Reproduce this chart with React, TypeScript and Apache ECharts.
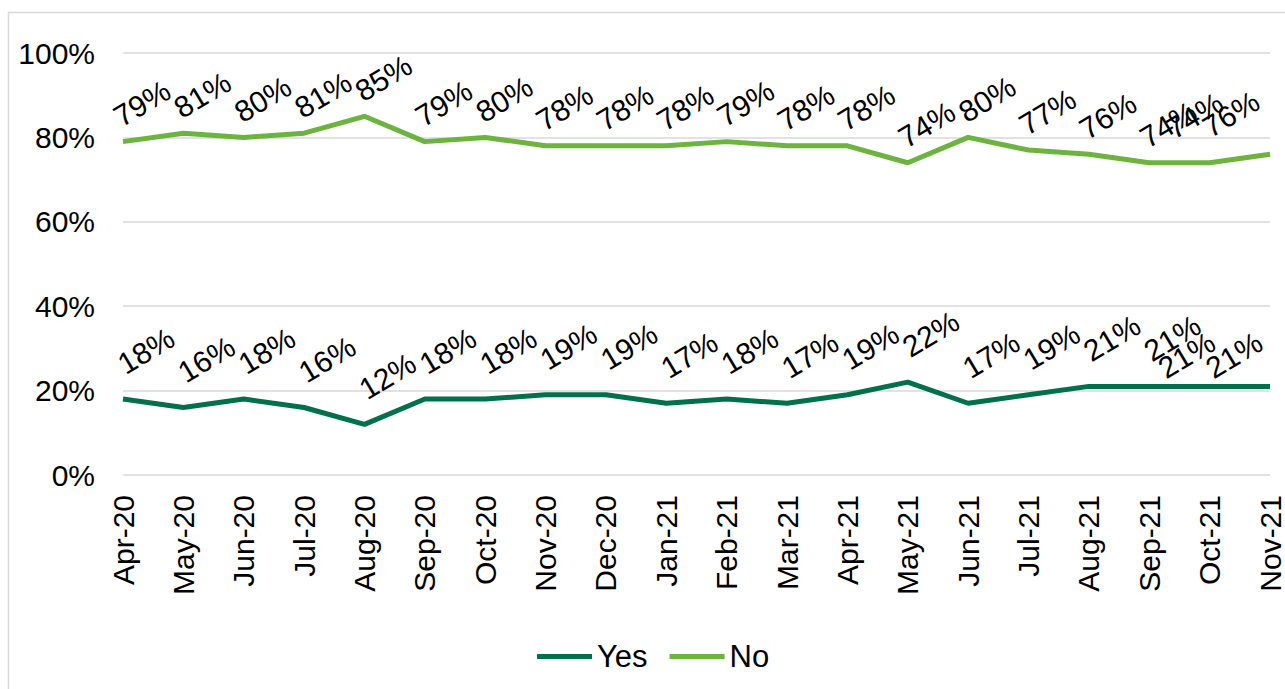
import React, { useEffect, useRef } from "react";
import * as echarts from "echarts";

const months = [
  "Apr-20", "May-20", "Jun-20", "Jul-20", "Aug-20", "Sep-20", "Oct-20", "Nov-20", "Dec-20",
  "Jan-21", "Feb-21", "Mar-21", "Apr-21", "May-21", "Jun-21", "Jul-21", "Aug-21", "Sep-21",
  "Oct-21", "Nov-21",
];
const yesValues = [18, 16, 18, 16, 12, 18, 18, 19, 19, 17, 18, 17, 19, 22, 17, 19, 21, 21, 21, 21];
const noValues = [79, 81, 80, 81, 85, 79, 80, 78, 78, 78, 79, 78, 78, 74, 80, 77, 76, 74, 74, 76];
const yTicks = { min: 0, max: 100, interval: 20 };

const FONT = "'Liberation Sans', Arial, sans-serif";
const ROT = 31;

// on-screen label shifts (px); ECharts applies offset in the label's rotated frame
function toLocal(dx: number, dy: number) {
  const t = (ROT * Math.PI) / 180;
  const c = Math.cos(t);
  const s = Math.sin(t);
  return [c * dx - s * dy, s * dx + c * dy];
}

export default function App() {
  const ref = useRef<HTMLDivElement>(null);
  useEffect(() => {
    if (!ref.current) return;
    const chart = echarts.init(ref.current, null, { renderer: "svg" });
    const makeLabel = (dx: number, dy: number) => ({
      show: true,
      position: "top",
      distance: 0,
      rotate: ROT,
      align: "left",
      verticalAlign: "bottom",
      offset: toLocal(dx, dy),
      color: "#000",
      fontSize: 30,
      fontFamily: FONT,
      formatter: (p: any) => p.value + "%",
    });
    // shift the right-most labels left so they stay inside the chart, as in the reference
    const build = (vals: number[], edge: Record<number, [number, number]>) =>
      vals.map((v, i) =>
        edge[i] ? { value: v, label: { offset: toLocal(edge[i][0], edge[i][1]) } } : v
      );
    const last = months.length - 1;
    chart.setOption({
      animation: false,
      backgroundColor: "#fff",
      textStyle: { fontFamily: FONT },
      graphic: [
        {
          type: "rect",
          shape: { x: 8.5, y: 12.5, width: 1500, height: 900 },
          style: { fill: "none", stroke: "#d9d9d9", lineWidth: 1.5 },
          silent: true,
        },
      ],
      grid: { left: 123, right: 9, top: 53, bottom: 214, containLabel: false },
      legend: {
        data: ["Yes", "No"],
        bottom: 17,
        left: 537,
        padding: 0,
        icon: "rect",
        itemWidth: 55,
        itemHeight: 5,
        itemGap: 22,
        textStyle: { fontSize: 31, color: "#000", fontFamily: FONT },
      },
      xAxis: {
        type: "category",
        data: months,
        boundaryGap: false,
        axisLine: { show: false },
        axisTick: { show: false },
        axisLabel: {
          rotate: 90,
          margin: 20,
          fontSize: 30,
          color: "#000",
          fontFamily: FONT,
          interval: 0,
        },
      },
      yAxis: {
        type: "value",
        min: yTicks.min,
        max: yTicks.max,
        interval: yTicks.interval,
        axisLine: { show: false },
        axisTick: { show: false },
        splitLine: { lineStyle: { color: "#d9d9d9", width: 1.5 } },
        axisLabel: {
          formatter: "{value}%",
          fontSize: 30,
          color: "#000",
          fontFamily: FONT,
          margin: 28,
        },
      },
      series: [
        {
          name: "Yes",
          type: "line",
          data: build(yesValues, { [last - 1]: [-41, -3], [last]: [-54, -3] }),
          symbol: "circle",
          symbolSize: 0,
          showSymbol: true,
          lineStyle: { color: "#00704a", width: 5 },
          itemStyle: { color: "#00704a" },
          label: makeLabel(5, -20),
        },
        {
          name: "No",
          type: "line",
          data: build(noValues, { [last - 1]: [-33, -19], [last]: [-57, -12] }),
          symbol: "circle",
          symbolSize: 0,
          showSymbol: true,
          lineStyle: { color: "#6cb33f", width: 5 },
          itemStyle: { color: "#6cb33f" },
          label: makeLabel(1, -10),
        },
      ],
    });
    return () => chart.dispose();
  }, []);
  return (
    <div
      ref={ref}
      style={{ position: "absolute", left: 0, top: 0, width: 1285, height: 689 }}
    />
  );
}
